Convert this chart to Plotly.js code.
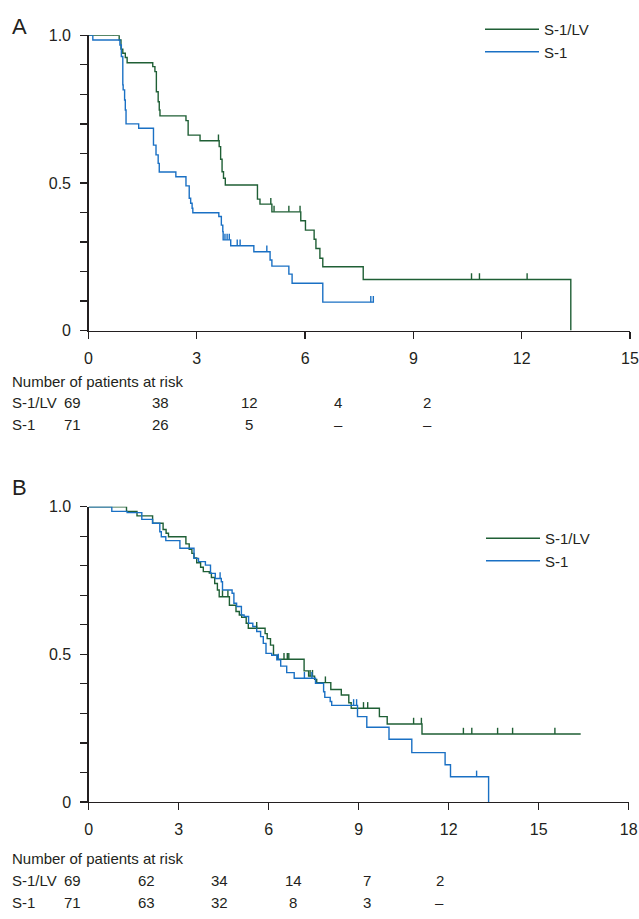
<!DOCTYPE html>
<html><head><meta charset="utf-8">
<script src="https://cdn.plot.ly/plotly-3.0.1.min.js"></script>
<style>html,body{margin:0;padding:0;background:#fff}#chart{width:639px;height:919px}</style>
</head><body><div id="chart"></div>
<script>
// ---------- DATA ----------
const seriesNames = ['S-1/LV', 'S-1'];

// Panel A (survival, months)
const timeA_LV = [0, 0.85, 0.90, 0.95, 1.02, 1.07, 1.78, 1.84, 1.88, 1.93, 1.96, 1.98, 2.70, 2.76, 3.09, 3.62, 3.66, 3.70, 3.74, 3.79, 4.68, 4.75, 5.08, 5.88, 6.01, 6.25, 6.30, 6.41, 6.49, 7.61, 13.36];
const survA_LV = [1.0, 0.984, 0.953, 0.939, 0.925, 0.907, 0.894, 0.877, 0.809, 0.775, 0.747, 0.727, 0.711, 0.662, 0.643, 0.623, 0.580, 0.538, 0.516, 0.493, 0.445, 0.428, 0.402, 0.372, 0.340, 0.309, 0.278, 0.245, 0.216, 0.173, 0];
const censA_LV = [0.03, 0.69, 3.60, 5.05, 5.14, 5.55, 5.86, 10.61, 10.83, 12.15];

const timeA_S1 = [0, 0.12, 0.87, 0.91, 0.95, 0.96, 1.00, 1.02, 1.04, 1.39, 1.80, 1.87, 1.93, 1.96, 2.42, 2.70, 2.79, 2.83, 2.87, 2.89, 3.61, 3.68, 3.72, 3.73, 3.94, 4.58, 5.03, 5.08, 5.55, 5.64, 6.49, 7.91];
const survA_S1 = [1.0, 0.984, 0.967, 0.928, 0.832, 0.815, 0.781, 0.747, 0.700, 0.685, 0.628, 0.595, 0.566, 0.537, 0.521, 0.490, 0.448, 0.431, 0.414, 0.399, 0.386, 0.357, 0.335, 0.307, 0.287, 0.267, 0.239, 0.218, 0.191, 0.160, 0.096, 0.096];
const censA_S1 = [3.78, 3.84, 3.90, 4.12, 4.20, 4.94, 7.82, 7.89];

// Panel B
const timeB_LV = [0, 1.26, 1.61, 2.13, 2.48, 2.58, 2.66, 3.24, 3.35, 3.44, 3.51, 3.60, 3.73, 3.82, 4.02, 4.09, 4.20, 4.29, 4.35, 4.69, 4.91, 5.02, 5.10, 5.25, 5.32, 5.88, 5.95, 6.06, 6.16, 6.30, 7.18, 7.33, 7.53, 7.60, 8.07, 8.42, 8.67, 8.75, 9.69, 9.95, 11.11, 16.40];
const survB_LV = [1.0, 0.984, 0.969, 0.944, 0.923, 0.910, 0.898, 0.874, 0.856, 0.842, 0.826, 0.810, 0.795, 0.780, 0.775, 0.760, 0.740, 0.718, 0.695, 0.666, 0.645, 0.633, 0.625, 0.605, 0.588, 0.570, 0.553, 0.531, 0.497, 0.483, 0.444, 0.426, 0.415, 0.404, 0.381, 0.362, 0.336, 0.317, 0.289, 0.264, 0.230, 0.230];
const censB_LV = [4.46, 4.64, 5.60, 6.51, 6.62, 6.67, 7.38, 7.46, 7.89, 9.16, 9.30, 10.83, 11.09, 12.49, 12.77, 13.63, 14.13, 15.54];

const timeB_S1 = [0, 0.77, 1.28, 1.77, 2.13, 2.37, 2.42, 2.57, 3.04, 3.51, 3.66, 3.89, 4.06, 4.22, 4.42, 4.46, 4.78, 4.84, 4.93, 5.09, 5.18, 5.33, 5.47, 5.60, 5.73, 5.82, 5.91, 6.10, 6.27, 6.40, 6.60, 6.85, 7.56, 7.83, 7.87, 8.05, 8.10, 8.96, 9.27, 10.01, 10.77, 11.88, 12.06, 13.33];
const survB_S1 = [1.0, 0.984, 0.980, 0.957, 0.944, 0.915, 0.898, 0.885, 0.859, 0.825, 0.814, 0.802, 0.774, 0.757, 0.746, 0.718, 0.707, 0.673, 0.662, 0.633, 0.628, 0.605, 0.594, 0.577, 0.560, 0.537, 0.503, 0.497, 0.481, 0.460, 0.438, 0.419, 0.402, 0.373, 0.354, 0.340, 0.327, 0.289, 0.253, 0.212, 0.167, 0.126, 0.085, 0];
const censB_S1 = [4.38, 6.32, 7.19, 7.44, 8.83, 8.93, 12.93];

// Risk tables
const riskTitle = 'Number of patients at risk';
const riskA_LV = ['69', '38', '12', '4', '2'];
const riskA_S1 = ['71', '26', '5', '–', '–'];
const riskB_LV = ['69', '62', '34', '14', '7', '2'];
const riskB_S1 = ['71', '63', '32', '8', '3', '–'];

// Axis ticks
const xTicksA = [0, 3, 6, 9, 12, 15];
const xTicksB = [0, 3, 6, 9, 12, 15, 18];
const yTickVals = [0, 0.1, 0.2, 0.3, 0.4, 0.5, 0.6, 0.7, 0.8, 0.9, 1.0];
const yTickText = ['0', '', '', '', '', '0.5', '', '', '', '', '1.0'];

// ---------- STYLE / LAYOUT ----------
const W = 639, H = 919;
const GREEN = '#1f5f35', BLUE = '#1a70c4', INK = '#231f20';
const FONT = 'Liberation Sans, Arial, sans-serif';
const px = v => v / W, py = v => 1 - v / H;
const TICK_UP = 0.021; // censor tick length (data units)

function survAt(times, surv, t) {
  let s = surv[0];
  for (let i = 0; i < times.length; i++) { if (times[i] <= t) s = surv[i]; else break; }
  return s;
}
function curve(t, s, name, color, xa, ya, legend) {
  return {x: t, y: s, name: name, type: 'scatter', mode: 'lines', line: {shape: 'hv', color: color, width: 1.4},
          xaxis: xa, yaxis: ya, legend: legend, cliponaxis: false, hoverinfo: 'skip'};
}
function cens(ct, t, s, color, xa, ya) {
  return {x: ct, y: ct.map(v => survAt(t, s, v)), type: 'scatter', mode: 'markers',
          marker: {size: 1, opacity: 0, color: color}, showlegend: false, xaxis: xa, yaxis: ya, cliponaxis: false,
          error_y: {type: 'data', symmetric: false, array: ct.map(() => TICK_UP), arrayminus: ct.map(() => 0),
                    width: 0, thickness: 1.4, color: color}, hoverinfo: 'skip'};
}

const traces = [
  curve(timeA_LV, survA_LV, seriesNames[0], GREEN, 'x', 'y', 'legend'),
  curve(timeA_S1, survA_S1, seriesNames[1], BLUE, 'x', 'y', 'legend'),
  cens(censA_LV, timeA_LV, survA_LV, GREEN, 'x', 'y'),
  cens(censA_S1, timeA_S1, survA_S1, BLUE, 'x', 'y'),
  curve(timeB_LV, survB_LV, seriesNames[0], GREEN, 'x2', 'y2', 'legend2'),
  curve(timeB_S1, survB_S1, seriesNames[1], BLUE, 'x2', 'y2', 'legend2'),
  cens(censB_LV, timeB_LV, survB_LV, GREEN, 'x2', 'y2'),
  cens(censB_S1, timeB_S1, survB_S1, BLUE, 'x2', 'y2')
];

const axisCommon = {showgrid: false, zeroline: false, showline: true, linecolor: INK, linewidth: 1.3,
  ticks: 'outside', ticklen: 7, tickwidth: 1.3, tickcolor: INK, tickfont: {family: FONT, size: 16, color: INK},
  fixedrange: true};

const annotations = [];
function txt(text, x, y, anchor, size) {
  annotations.push({text: text, x: px(x), y: py(y), xref: 'paper', yref: 'paper', xanchor: anchor, yanchor: 'middle',
    showarrow: false, font: {family: FONT, size: size || 15, color: INK}});
}
txt('A', 10, 26, 'left', 22);
txt('B', 10, 488, 'left', 22);
// Risk table A
const colsA = [72, 160, 249, 338, 427];
txt(riskTitle, 10, 382, 'left');
txt(seriesNames[0], 10, 402, 'left');
txt(seriesNames[1], 10, 424, 'left');
riskA_LV.forEach((v, i) => txt(v, colsA[i], 402, 'center'));
riskA_S1.forEach((v, i) => txt(v, colsA[i], 424, 'center'));
// Risk table B
const colsB = [72, 146, 219, 293, 367, 440];
txt(riskTitle, 10, 858, 'left');
txt(seriesNames[0], 10, 880, 'left');
txt(seriesNames[1], 10, 902, 'left');
riskB_LV.forEach((v, i) => txt(v, colsB[i], 880, 'center'));
riskB_S1.forEach((v, i) => txt(v, colsB[i], 902, 'center'));

const legendCommon = {xanchor: 'left', yanchor: 'top', bgcolor: 'rgba(0,0,0,0)', borderwidth: 0,
  font: {family: FONT, size: 15, color: INK}, itemwidth: 54, tracegroupgap: 0};

const layout = {
  width: W, height: H, margin: {l: 0, r: 0, t: 0, b: 0}, paper_bgcolor: '#fff', plot_bgcolor: '#fff',
  showlegend: true,
  xaxis: Object.assign({}, axisCommon, {domain: [px(88.5), px(630)], range: [0, 15], tickvals: xTicksA, ticklabelstandoff: 6, anchor: 'y'}),
  yaxis: Object.assign({}, axisCommon, {domain: [py(330.5), py(35.3)], range: [0, 1], tickvals: yTickVals, ticktext: yTickText, ticklabelstandoff: 6, anchor: 'x'}),
  xaxis2: Object.assign({}, axisCommon, {domain: [px(88.7), px(628.7)], range: [0, 18], tickvals: xTicksB, ticklabelstandoff: 6, anchor: 'y2'}),
  yaxis2: Object.assign({}, axisCommon, {domain: [py(801.9), py(506.7)], range: [0, 1], tickvals: yTickVals, ticktext: yTickText, ticklabelstandoff: 6, anchor: 'x2'}),
  legend: Object.assign({}, legendCommon, {x: px(480), y: py(13)}),
  legend2: Object.assign({}, legendCommon, {x: px(481), y: py(522)}),
  annotations: annotations
};

Plotly.newPlot('chart', traces, layout, {displayModeBar: false, staticPlot: true});
</script>
</body></html>
